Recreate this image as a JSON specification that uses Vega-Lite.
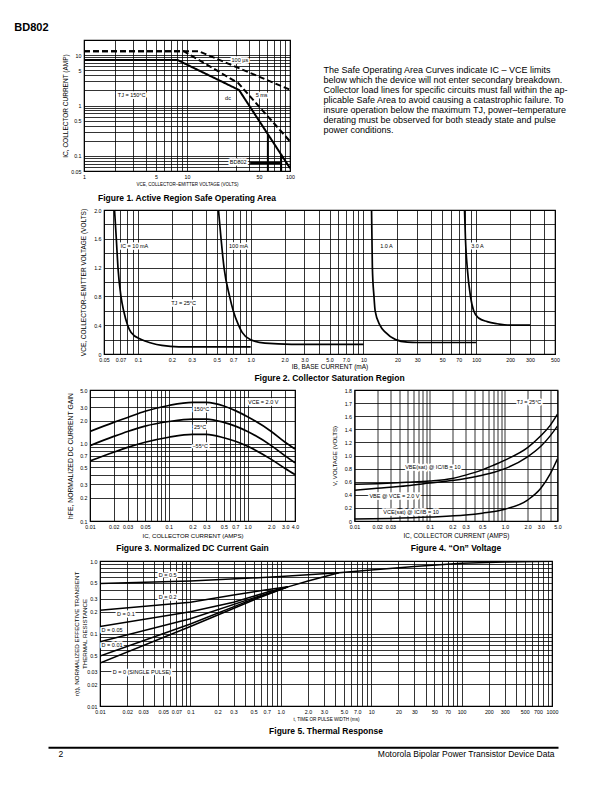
{
  "$schema": "https://vega.github.io/schema/vega-lite/v6.json",
  "background": "white",
  "padding": {"left": 14, "top": 22, "right": 5, "bottom": 5},
  "title": {"text": "BD802", "anchor": "start", "dx": -31, "fontSize": 11, "fontWeight": "bold", "offset": 4},
  "spacing": 4,
  "config": {
    "font": "Liberation Sans",
    "view": {"stroke": "black", "strokeWidth": 1.2},
    "axis": {"grid": true, "gridColor": "black", "gridOpacity": 1, "gridWidth": 0.8, "ticks": false, "domain": false,
      "labelFont": "Liberation Sans", "labelFontSize": 5.3, "labelColor": "black", "labelOverlap": false, "labelFlush": false, "labelBound": false, "labelPadding": 3,
      "titleFont": "Liberation Sans", "titleFontWeight": "normal", "titleColor": "black", "titleFontSize": 6, "titlePadding": 2},
    "title": {"font": "Liberation Sans", "fontSize": 8.5, "fontWeight": "bold", "color": "black"},
    "text": {"font": "Liberation Sans", "color": "black"}
  },
  "datasets": {
    "fig1": [
      {"s": "100us", "x": 1, "y": 12}, {"s": "100us", "x": 13, "y": 12}, {"s": "100us", "x": 100, "y": 2.06},
      {"s": "5ms", "x": 1, "y": 12}, {"s": "5ms", "x": 9.3, "y": 12}, {"s": "5ms", "x": 31.4, "y": 2.8}, {"s": "5ms", "x": 100, "y": 0.194},
      {"s": "dc", "x": 1, "y": 8}, {"s": "dc", "x": 8.1, "y": 8}, {"s": "dc", "x": 32, "y": 2.03}, {"s": "dc", "x": 100, "y": 0.057},
      {"s": "lim60", "x": 61, "y": 0.26}, {"s": "lim60", "x": 61, "y": 0.05},
      {"s": "lim80", "x": 82, "y": 0.106}, {"s": "lim80", "x": 82, "y": 0.05},
      {"s": "pointer", "x": 41, "y": 0.072}, {"s": "pointer", "x": 80, "y": 0.072}
    ],
    "fig1lab": [
      {"t": "100 µs", "x": 32.6, "y": 8.1}, {"t": "5 ms", "x": 53, "y": 1.6}, {"t": "dc", "x": 25, "y": 1.41},
      {"t": "TJ = 150°C", "x": 2.9, "y": 1.64}, {"t": "BD802", "x": 31.4, "y": 0.075}
    ],
    "fig2": [
      {"s": "10 mA", "x": 0.062, "y": 2.0}, {"s": "10 mA", "x": 0.0643, "y": 1.6}, {"s": "10 mA", "x": 0.0665, "y": 1.2}, {"s": "10 mA", "x": 0.0707, "y": 0.8}, {"s": "10 mA", "x": 0.0747, "y": 0.6}, {"s": "10 mA", "x": 0.081, "y": 0.4}, {"s": "10 mA", "x": 0.087, "y": 0.3}, {"s": "10 mA", "x": 0.107, "y": 0.2}, {"s": "10 mA", "x": 0.133, "y": 0.15}, {"s": "10 mA", "x": 0.163, "y": 0.12}, {"s": "10 mA", "x": 0.23, "y": 0.1}, {"s": "10 mA", "x": 1, "y": 0.1},
      {"s": "100 mA", "x": 0.518, "y": 2.0}, {"s": "100 mA", "x": 0.546, "y": 1.6}, {"s": "100 mA", "x": 0.58, "y": 1.2}, {"s": "100 mA", "x": 0.65, "y": 0.8}, {"s": "100 mA", "x": 0.70, "y": 0.6}, {"s": "100 mA", "x": 0.78, "y": 0.4}, {"s": "100 mA", "x": 0.84, "y": 0.3}, {"s": "100 mA", "x": 0.99, "y": 0.2}, {"s": "100 mA", "x": 1.34, "y": 0.15}, {"s": "100 mA", "x": 2.3, "y": 0.135}, {"s": "100 mA", "x": 10, "y": 0.135},
      {"s": "1.0 A", "x": 11.8, "y": 2.0}, {"s": "1.0 A", "x": 11.9, "y": 1.6}, {"s": "1.0 A", "x": 12, "y": 1.2}, {"s": "1.0 A", "x": 12.4, "y": 0.8}, {"s": "1.0 A", "x": 12.7, "y": 0.6}, {"s": "1.0 A", "x": 14, "y": 0.4}, {"s": "1.0 A", "x": 15.7, "y": 0.3}, {"s": "1.0 A", "x": 19.3, "y": 0.2}, {"s": "1.0 A", "x": 24.5, "y": 0.165}, {"s": "1.0 A", "x": 30, "y": 0.16}, {"s": "1.0 A", "x": 100, "y": 0.16},
      {"s": "3.0 A", "x": 78.8, "y": 2.0}, {"s": "3.0 A", "x": 80.3, "y": 1.6}, {"s": "3.0 A", "x": 83.3, "y": 1.2}, {"s": "3.0 A", "x": 89, "y": 0.8}, {"s": "3.0 A", "x": 95, "y": 0.6}, {"s": "3.0 A", "x": 105, "y": 0.5}, {"s": "3.0 A", "x": 125, "y": 0.45}, {"s": "3.0 A", "x": 153, "y": 0.42}, {"s": "3.0 A", "x": 200, "y": 0.4}, {"s": "3.0 A", "x": 300, "y": 0.4}
    ],
    "fig2lab": [
      {"t": "IC = 10 mA", "x": 0.093, "y": 1.5}, {"t": "100 mA", "x": 0.78, "y": 1.5}, {"t": "1.0 A", "x": 16, "y": 1.5},
      {"t": "3.0 A", "x": 102.7, "y": 1.5}, {"t": "TJ = 25°C", "x": 0.254, "y": 0.715}
    ],
    "fig3": [
      {"s": "150", "x": 0.01, "y": 1.45}, {"s": "150", "x": 0.02, "y": 1.9}, {"s": "150", "x": 0.03, "y": 2.2}, {"s": "150", "x": 0.05, "y": 2.65}, {"s": "150", "x": 0.1, "y": 3.15}, {"s": "150", "x": 0.2, "y": 3.45}, {"s": "150", "x": 0.3, "y": 3.45}, {"s": "150", "x": 0.5, "y": 3.1}, {"s": "150", "x": 0.7, "y": 2.7}, {"s": "150", "x": 1, "y": 2.25}, {"s": "150", "x": 2, "y": 1.45}, {"s": "150", "x": 3, "y": 1.05}, {"s": "150", "x": 4, "y": 0.86},
      {"s": "25", "x": 0.01, "y": 0.95}, {"s": "25", "x": 0.02, "y": 1.25}, {"s": "25", "x": 0.03, "y": 1.45}, {"s": "25", "x": 0.05, "y": 1.7}, {"s": "25", "x": 0.1, "y": 1.95}, {"s": "25", "x": 0.2, "y": 2.1}, {"s": "25", "x": 0.3, "y": 2.1}, {"s": "25", "x": 0.5, "y": 1.9}, {"s": "25", "x": 0.7, "y": 1.7}, {"s": "25", "x": 1, "y": 1.45}, {"s": "25", "x": 2, "y": 0.95}, {"s": "25", "x": 3, "y": 0.7}, {"s": "25", "x": 4, "y": 0.57},
      {"s": "-55", "x": 0.01, "y": 0.6}, {"s": "-55", "x": 0.02, "y": 0.78}, {"s": "-55", "x": 0.03, "y": 0.9}, {"s": "-55", "x": 0.05, "y": 1.05}, {"s": "-55", "x": 0.1, "y": 1.22}, {"s": "-55", "x": 0.2, "y": 1.33}, {"s": "-55", "x": 0.3, "y": 1.33}, {"s": "-55", "x": 0.5, "y": 1.2}, {"s": "-55", "x": 0.7, "y": 1.08}, {"s": "-55", "x": 1, "y": 0.93}, {"s": "-55", "x": 2, "y": 0.63}, {"s": "-55", "x": 3, "y": 0.48}, {"s": "-55", "x": 4, "y": 0.4}
    ],
    "fig3lab": [
      {"t": "150°C", "x": 0.26, "y": 2.85}, {"t": "25°C", "x": 0.25, "y": 1.65}, {"t": "−55°C", "x": 0.25, "y": 0.95}, {"t": "VCE = 2.0 V", "x": 1.58, "y": 3.5}
    ],
    "fig4": [
      {"s": "VBEsat", "x": 0.01, "y": 0.56}, {"s": "VBEsat", "x": 0.02, "y": 0.57}, {"s": "VBEsat", "x": 0.05, "y": 0.59}, {"s": "VBEsat", "x": 0.1, "y": 0.61}, {"s": "VBEsat", "x": 0.2, "y": 0.65}, {"s": "VBEsat", "x": 0.3, "y": 0.7}, {"s": "VBEsat", "x": 0.5, "y": 0.78}, {"s": "VBEsat", "x": 0.7, "y": 0.85}, {"s": "VBEsat", "x": 1, "y": 0.93}, {"s": "VBEsat", "x": 2, "y": 1.12}, {"s": "VBEsat", "x": 3, "y": 1.3}, {"s": "VBEsat", "x": 4, "y": 1.46}, {"s": "VBEsat", "x": 5, "y": 1.63},
      {"s": "VBE", "x": 0.01, "y": 0.47}, {"s": "VBE", "x": 0.02, "y": 0.5}, {"s": "VBE", "x": 0.05, "y": 0.54}, {"s": "VBE", "x": 0.1, "y": 0.58}, {"s": "VBE", "x": 0.2, "y": 0.62}, {"s": "VBE", "x": 0.3, "y": 0.65}, {"s": "VBE", "x": 0.5, "y": 0.7}, {"s": "VBE", "x": 0.7, "y": 0.74}, {"s": "VBE", "x": 1, "y": 0.8}, {"s": "VBE", "x": 2, "y": 0.98}, {"s": "VBE", "x": 3, "y": 1.14}, {"s": "VBE", "x": 4, "y": 1.3}, {"s": "VBE", "x": 5, "y": 1.45},
      {"s": "VCEsat", "x": 0.01, "y": 0.03}, {"s": "VCEsat", "x": 0.03, "y": 0.04}, {"s": "VCEsat", "x": 0.1, "y": 0.06}, {"s": "VCEsat", "x": 0.3, "y": 0.09}, {"s": "VCEsat", "x": 0.5, "y": 0.12}, {"s": "VCEsat", "x": 1, "y": 0.18}, {"s": "VCEsat", "x": 2, "y": 0.32}, {"s": "VCEsat", "x": 3, "y": 0.5}, {"s": "VCEsat", "x": 4, "y": 0.72}, {"s": "VCEsat", "x": 5, "y": 0.95}
    ],
    "fig4lab": [
      {"t": "VBE(sat) @ IC/IB = 10", "x": 0.11, "y": 0.82}, {"t": "VBE @ VCE = 2.0 V", "x": 0.034, "y": 0.38},
      {"t": "VCE(sat) @ IC/IB = 10", "x": 0.0565, "y": 0.13}, {"t": "TJ = 25°C", "x": 2.09, "y": 1.81}
    ],
    "fig5": [
      {"s": "D0.5", "x": 0.01, "y": 0.49}, {"s": "D0.5", "x": 0.1, "y": 0.53}, {"s": "D0.5", "x": 1, "y": 0.61}, {"s": "D0.5", "x": 4.4, "y": 0.69}, {"s": "D0.5", "x": 10, "y": 0.75}, {"s": "D0.5", "x": 30, "y": 0.84}, {"s": "D0.5", "x": 100, "y": 0.93}, {"s": "D0.5", "x": 300, "y": 0.97}, {"s": "D0.5", "x": 1000, "y": 0.99},
      {"s": "D0.2", "x": 0.01, "y": 0.21}, {"s": "D0.2", "x": 0.1, "y": 0.27}, {"s": "D0.2", "x": 0.3, "y": 0.34}, {"s": "D0.2", "x": 0.7, "y": 0.4}, {"s": "D0.2", "x": 1.2, "y": 0.44}, {"s": "D0.2", "x": 2, "y": 0.53}, {"s": "D0.2", "x": 4.4, "y": 0.69},
      {"s": "D0.1", "x": 0.01, "y": 0.125}, {"s": "D0.1", "x": 0.1, "y": 0.2}, {"s": "D0.1", "x": 0.3, "y": 0.27}, {"s": "D0.1", "x": 0.7, "y": 0.37}, {"s": "D0.1", "x": 1.2, "y": 0.44},
      {"s": "D0.05", "x": 0.01, "y": 0.077}, {"s": "D0.05", "x": 0.1, "y": 0.16}, {"s": "D0.05", "x": 0.5, "y": 0.31}, {"s": "D0.05", "x": 1.2, "y": 0.44},
      {"s": "D0.01", "x": 0.01, "y": 0.049}, {"s": "D0.01", "x": 0.1, "y": 0.135}, {"s": "D0.01", "x": 0.5, "y": 0.3}, {"s": "D0.01", "x": 1.2, "y": 0.44},
      {"s": "D0", "x": 0.01, "y": 0.039}, {"s": "D0", "x": 0.1, "y": 0.125}, {"s": "D0", "x": 0.5, "y": 0.29}, {"s": "D0", "x": 1.2, "y": 0.44}
    ],
    "fig5lab": [
      {"t": "D = 0.5", "x": 0.056, "y": 0.65}, {"t": "D = 0.2", "x": 0.056, "y": 0.316}, {"t": "D = 0.1", "x": 0.0193, "y": 0.183},
      {"t": "D = 0.05", "x": 0.0136, "y": 0.111}, {"t": "D = 0.01", "x": 0.0136, "y": 0.069}, {"t": "D = 0 (SINGLE PULSE)", "x": 0.029, "y": 0.0296}
    ],
    "para": [
      {"line": 1, "t": "\u00a0\u00a0\u00a0\u00a0The Safe Operating Area Curves indicate IC – VCE limits"},
      {"line": 2, "t": "below which the device will not enter secondary breakdown."},
      {"line": 3, "t": "Collector load lines for specific circuits must fall within the ap-"},
      {"line": 4, "t": "plicable Safe Area to avoid causing a catastrophic failure. To"},
      {"line": 5, "t": "insure operation below the maximum TJ, power–temperature"},
      {"line": 6, "t": "derating must be observed for both steady state and pulse"},
      {"line": 7, "t": "power conditions."}
    ],
    "none": []
  },
  "vconcat": [
    {
      "spacing": 0,
      "hconcat": [
        {"width": 12.5, "height": 1, "view": {"stroke": null}, "data": {"name": "none"}, "mark": {"type": "point", "opacity": 0}},
        {
          "spacing": 27.5,
          "hconcat": [
            {
              "width": 206, "height": 131,
              "title": {"text": "Figure 1. Active Region Safe Operating Area", "orient": "bottom", "offset": 7.3},
              "layer": [
                {
                  "data": {"name": "fig1lab"},
                  "mark": {"type": "text", "fontSize": 5.5, "fill": "white", "stroke": "white", "strokeWidth": 3.5, "strokeJoin": "round"},
                  "encoding": {
                    "x": {"field": "x", "type": "quantitative", "scale": {"type": "log", "domain": [1, 100], "nice": false},
                      "axis": {"title": "VCE, COLLECTOR–EMITTER VOLTAGE (VOLTS)", "titleFontSize": 4.5, "titlePadding": 2.5, "tickCount": 1000,
                        "values": [1,2,3,4,5,6,7,8,9,10,20,30,40,50,60,70,80,90,100],
                        "labelExpr": "indexof([1,5,10,50,100], datum.value) >= 0 ? toString(datum.value) : ''"}},
                    "y": {"field": "y", "type": "quantitative", "scale": {"type": "log", "domain": [0.05, 20], "nice": false},
                      "axis": {"title": "IC, COLLECTOR CURRENT (AMP)", "titleFontSize": 6.5, "titleX": -15.5, "tickCount": 1000,
                        "values": [0.05,0.06,0.07,0.08,0.09,0.1,0.2,0.3,0.4,0.5,0.6,0.7,0.8,0.9,1,2,3,4,5,6,7,8,9,10,20],
                        "labelExpr": "indexof([0.05,0.1,0.5,1,5,10], datum.value) >= 0 ? toString(datum.value) : ''"}},
                    "text": {"field": "t"}
                  }
                },
                {
                  "data": {"name": "fig1"},
                  "mark": {"type": "line", "clip": true, "color": "black"},
                  "encoding": {
                    "x": {"field": "x", "type": "quantitative"},
                    "y": {"field": "y", "type": "quantitative"},
                    "detail": {"field": "s", "type": "nominal"},
                    "strokeDash": {"field": "s", "type": "nominal", "legend": null,
                      "scale": {"domain": ["100us", "5ms", "dc", "lim60", "lim80", "pointer"], "range": [[6, 3], [6, 3], [1, 0], [1, 0], [1, 0], [1, 0]]}},
                    "strokeWidth": {"field": "s", "type": "nominal", "legend": null,
                      "scale": {"domain": ["100us", "5ms", "dc", "lim60", "lim80", "pointer"], "range": [2, 2, 2, 2, 2, 0.8]}}
                  }
                },
                {
                  "data": {"name": "fig1lab"},
                  "mark": {"type": "text", "fontSize": 5.5, "color": "black"},
                  "encoding": {"x": {"field": "x", "type": "quantitative"}, "y": {"field": "y", "type": "quantitative"}, "text": {"field": "t"}}
                }
              ]
            },
            {
              "width": 265, "height": 131,
              "view": {"stroke": null},
              "data": {"name": "para"},
              "mark": {"type": "text", "align": "left", "baseline": "middle", "fontSize": 9, "color": "black"},
              "encoding": {
                "x": {"value": 0},
                "y": {"field": "line", "type": "quantitative", "scale": {"domain": [-2.03, 11.07], "reverse": true, "nice": false, "zero": false}, "axis": null},
                "text": {"field": "t"}
              }
            }
          ]
        }
      ]
    },
    {
      "spacing": 0,
      "hconcat": [
        {"width": 31, "height": 1, "view": {"stroke": null}, "data": {"name": "none"}, "mark": {"type": "point", "opacity": 0}},
        {
          "width": 451, "height": 144,
          "title": {"text": "Figure 2. Collector Saturation Region", "orient": "bottom", "offset": 3.5},
          "layer": [
            {
              "data": {"name": "fig2lab"},
              "mark": {"type": "text", "fontSize": 5.5, "fill": "white", "stroke": "white", "strokeWidth": 3.5, "strokeJoin": "round"},
              "encoding": {
                "x": {"field": "x", "type": "quantitative", "scale": {"type": "log", "domain": [0.05, 500], "nice": false},
                  "axis": {"title": "IB, BASE CURRENT (mA)", "titleFontSize": 6.5, "titlePadding": 1.5, "tickCount": 1000,
                    "values": [0.05,0.06,0.07,0.08,0.09,0.1,0.2,0.3,0.4,0.5,0.6,0.7,0.8,0.9,1,2,3,4,5,6,7,8,9,10,20,30,40,50,60,70,80,90,100,200,300,400,500],
                    "labelExpr": "indexof([0.05,0.07,0.1,0.2,0.3,0.5,0.7,1,2,3,5,7,10,20,30,50,70,100,200,300,500], datum.value) < 0 ? '' : (datum.value >= 1 && datum.value < 10 ? format(datum.value, '.1f') : toString(datum.value))"}},
                "y": {"field": "y", "type": "quantitative", "scale": {"domain": [0, 2], "nice": false},
                  "axis": {"title": "VCE, COLLECTOR–EMITTER VOLTAGE (VOLTS)", "titleFontSize": 6.5, "titleX": -18, "tickCount": 1000,
                    "values": [0,0.2,0.4,0.6,0.8,1,1.2,1.4,1.6,1.8,2],
                    "labelExpr": "datum.value == 0 ? '0' : (indexof([0.4,0.8,1.2,1.6,2], datum.value) >= 0 ? format(datum.value, '.1f') : '')"}},
                "text": {"field": "t"}
              }
            },
            {
              "data": {"name": "fig2"},
              "mark": {"type": "line", "clip": true, "color": "black", "strokeWidth": 1.7, "interpolate": "monotone"},
              "encoding": {"x": {"field": "x", "type": "quantitative"}, "y": {"field": "y", "type": "quantitative"}, "detail": {"field": "s", "type": "nominal"}}
            },
            {
              "data": {"name": "fig2lab"},
              "mark": {"type": "text", "fontSize": 5.5, "color": "black"},
              "encoding": {"x": {"field": "x", "type": "quantitative"}, "y": {"field": "y", "type": "quantitative"}, "text": {"field": "t"}}
            }
          ]
        }
      ]
    },
    {
      "spacing": 0,
      "hconcat": [
        {"width": 18, "height": 1, "view": {"stroke": null}, "data": {"name": "none"}, "mark": {"type": "point", "opacity": 0}},
        {
          "spacing": 30.5,
          "hconcat": [
            {
              "width": 205, "height": 131,
              "title": {"text": "Figure 3. Normalized DC Current Gain", "orient": "bottom", "offset": 5.3},
              "layer": [
                {
                  "data": {"name": "fig3lab"},
                  "mark": {"type": "text", "fontSize": 5.5, "fill": "white", "stroke": "white", "strokeWidth": 3.5, "strokeJoin": "round"},
                  "encoding": {
                    "x": {"field": "x", "type": "quantitative", "scale": {"type": "log", "domain": [0.01, 4], "nice": false},
                      "axis": {"title": "IC, COLLECTOR CURRENT (AMPS)", "titleFontSize": 6.1, "titlePadding": 3.3, "tickCount": 1000,
                        "values": [0.01,0.02,0.03,0.04,0.05,0.06,0.07,0.08,0.09,0.1,0.2,0.3,0.4,0.5,0.6,0.7,0.8,0.9,1,2,3,4],
                        "labelExpr": "indexof([0.01,0.02,0.03,0.05,0.1,0.2,0.3,0.5,0.7,1,2,3,4], datum.value) < 0 ? '' : (datum.value >= 1 ? format(datum.value, '.1f') : toString(datum.value))"}},
                    "y": {"field": "y", "type": "quantitative", "scale": {"type": "log", "domain": [0.1, 5], "nice": false},
                      "axis": {"title": "hFE, NORMALIZED DC CURRENT GAIN", "titleFontSize": 6.8, "titleX": -17, "tickCount": 1000,
                        "values": [0.1,0.2,0.3,0.4,0.5,0.6,0.7,0.8,0.9,1,2,3,4,5],
                        "labelExpr": "indexof([0.1,0.2,0.3,0.5,0.7,1,2,3,5], datum.value) < 0 ? '' : (datum.value >= 1 ? format(datum.value, '.1f') : toString(datum.value))"}},
                    "text": {"field": "t"}
                  }
                },
                {
                  "data": {"name": "fig3"},
                  "mark": {"type": "line", "clip": true, "color": "black", "strokeWidth": 1.7, "interpolate": "monotone"},
                  "encoding": {"x": {"field": "x", "type": "quantitative"}, "y": {"field": "y", "type": "quantitative"}, "detail": {"field": "s", "type": "nominal"}}
                },
                {
                  "data": {"name": "fig3lab"},
                  "mark": {"type": "text", "fontSize": 5.5, "color": "black"},
                  "encoding": {"x": {"field": "x", "type": "quantitative"}, "y": {"field": "y", "type": "quantitative"}, "text": {"field": "t"}}
                }
              ]
            },
            {
              "width": 203, "height": 131,
              "title": {"text": "Figure 4. “On” Voltage", "orient": "bottom", "offset": 5.3},
              "layer": [
                {
                  "data": {"name": "fig4lab"},
                  "mark": {"type": "text", "fontSize": 5.5, "fill": "white", "stroke": "white", "strokeWidth": 3.5, "strokeJoin": "round"},
                  "encoding": {
                    "x": {"field": "x", "type": "quantitative", "scale": {"type": "log", "domain": [0.01, 5], "nice": false},
                      "axis": {"title": "IC, COLLECTOR CURRENT (AMPS)", "titleFontSize": 6.4, "titlePadding": 3.3, "tickCount": 1000,
                        "values": [0.01,0.02,0.03,0.04,0.05,0.06,0.07,0.08,0.09,0.1,0.2,0.3,0.4,0.5,0.6,0.7,0.8,0.9,1,2,3,4,5],
                        "labelExpr": "indexof([0.01,0.02,0.03,0.1,0.2,0.3,0.5,1,2,3,5], datum.value) < 0 ? '' : (datum.value >= 1 ? format(datum.value, '.1f') : toString(datum.value))"}},
                    "y": {"field": "y", "type": "quantitative", "scale": {"domain": [0, 2], "nice": false},
                      "axis": {"title": "V, VOLTAGE (VOLTS)", "titleFontSize": 6.1, "titleX": -17.3, "tickCount": 1000,
                        "values": [0,0.2,0.4,0.6,0.8,1,1.2,1.4,1.6,1.8,2],
                        "labelExpr": "datum.value == 0 ? '0' : datum.value == 1.8 ? '1.7' : datum.value == 2 ? '1.8' : format(datum.value, '.1f')"}},
                    "text": {"field": "t"}
                  }
                },
                {
                  "data": {"name": "fig4"},
                  "mark": {"type": "line", "clip": true, "color": "black", "strokeWidth": 1.5, "interpolate": "monotone"},
                  "encoding": {"x": {"field": "x", "type": "quantitative"}, "y": {"field": "y", "type": "quantitative"}, "detail": {"field": "s", "type": "nominal"}}
                },
                {
                  "data": {"name": "fig4lab"},
                  "mark": {"type": "text", "fontSize": 5.5, "color": "black"},
                  "encoding": {"x": {"field": "x", "type": "quantitative"}, "y": {"field": "y", "type": "quantitative"}, "text": {"field": "t"}}
                }
              ]
            }
          ]
        }
      ]
    },
    {
      "spacing": 0,
      "hconcat": [
        {"width": 23.5, "height": 1, "view": {"stroke": null}, "data": {"name": "none"}, "mark": {"type": "point", "opacity": 0}},
        {
          "width": 452, "height": 145,
          "title": {"text": "Figure 5. Thermal Response", "orient": "bottom", "offset": 6.6},
          "layer": [
            {
              "data": {"name": "fig5lab"},
              "mark": {"type": "text", "fontSize": 5.5, "fill": "white", "stroke": "white", "strokeWidth": 3.5, "strokeJoin": "round"},
              "encoding": {
                "x": {"field": "x", "type": "quantitative", "scale": {"type": "log", "domain": [0.01, 1000], "nice": false},
                  "axis": {"title": "t, TIME OR PULSE WIDTH (ms)", "titleFontSize": 4.6, "titlePadding": 1.7, "tickCount": 1000,
                    "values": [0.01,0.02,0.03,0.04,0.05,0.06,0.07,0.08,0.09,0.1,0.2,0.3,0.4,0.5,0.6,0.7,0.8,0.9,1,2,3,4,5,6,7,8,9,10,20,30,40,50,60,70,80,90,100,200,300,400,500,600,700,800,900,1000],
                    "labelExpr": "indexof([0.01,0.02,0.03,0.05,0.07,0.1,0.2,0.3,0.5,0.7,1,2,3,5,7,10,20,30,50,70,100,200,300,500,700,1000], datum.value) < 0 ? '' : (datum.value >= 1 && datum.value < 10 ? format(datum.value, '.1f') : toString(datum.value))"}},
                "y": {"field": "y", "type": "quantitative", "scale": {"type": "log", "domain": [0.01, 1], "nice": false},
                  "axis": {"title": ["r(t), NORMALIZED EFFECTIVE TRANSIENT", "THERMAL RESISTANCE"], "titleFontSize": 6.2, "titleLineHeight": 8, "titleX": -21, "tickCount": 1000,
                    "values": [0.01,0.02,0.03,0.04,0.05,0.06,0.07,0.08,0.09,0.1,0.2,0.3,0.4,0.5,0.6,0.7,0.8,0.9,1],
                    "labelExpr": "datum.value == 0.05 ? '0.5' : datum.value == 1 ? '1.0' : (indexof([0.01,0.02,0.03,0.1,0.2,0.3,0.5], datum.value) >= 0 ? toString(datum.value) : '')"}},
                "text": {"field": "t"}
              }
            },
            {
              "data": {"name": "fig5"},
              "mark": {"type": "line", "clip": true, "color": "black", "strokeWidth": 1.5},
              "encoding": {"x": {"field": "x", "type": "quantitative"}, "y": {"field": "y", "type": "quantitative"}, "detail": {"field": "s", "type": "nominal"}}
            },
            {
              "data": {"name": "fig5lab"},
              "mark": {"type": "text", "fontSize": 5.5, "color": "black"},
              "encoding": {"x": {"field": "x", "type": "quantitative"}, "y": {"field": "y", "type": "quantitative"}, "text": {"field": "t"}}
            }
          ]
        }
      ]
    },
    {
      "width": 510, "height": 6.2,
      "view": {"stroke": null},
      "data": {"values": [{"t": "2"}, {"t": "Motorola Bipolar Power Transistor Device Data"}]},
      "mark": {"type": "point", "opacity": 0},
      "encoding": {
        "x": {"field": "t", "type": "nominal", "scale": {"type": "point", "padding": 0},
          "axis": {"title": null, "grid": false, "domain": true, "domainColor": "black", "domainWidth": 2, "labelFontSize": 8.5, "labelPadding": 2, "labelAngle": 0,
            "labelAlign": {"condition": {"test": "datum.value == '2'", "value": "left"}, "value": "right"},
            "labelOffset": {"condition": {"test": "datum.value == '2'", "value": 10}, "value": -4},
            "labelBaseline": "top"}}
      }
    }
  ]
}
